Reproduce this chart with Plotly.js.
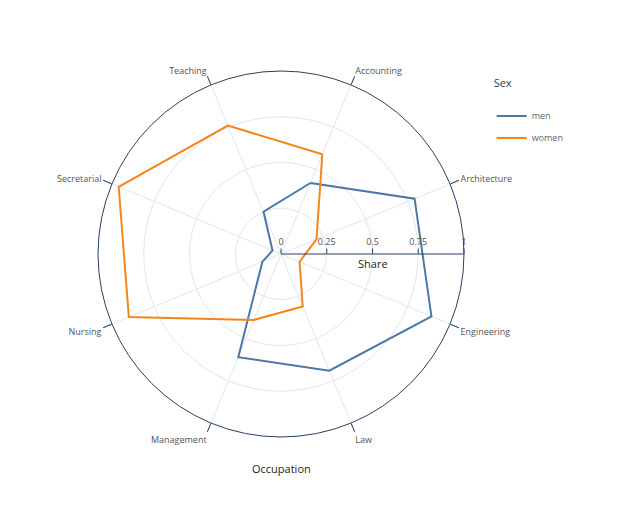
<!DOCTYPE html>
<html>
<head>
<meta charset="utf-8">
<script src="https://cdn.plot.ly/plotly-3.0.1.min.js"></script>
<style>html,body{margin:0;padding:0;background:#fff;}#chart{width:640px;height:507px;}</style>
</head>
<body>
<div id="chart"></div>
<script>
const occupations = ["Accounting","Architecture","Engineering","Law","Management","Nursing","Secretarial","Teaching"];
const menShare = [0.42, 0.79, 0.89, 0.69, 0.61, 0.11, 0.05, 0.25];
const womenShare = [0.59, 0.21, 0.11, 0.31, 0.39, 0.90, 0.96, 0.76];
const radialTicks = [0, 0.25, 0.5, 0.75, 1];
const radialTickText = ["0", "0.25", "0.5", "0.75", "1"];

function closeLoop(a){ return a.concat([a[0]]); }

const traces = [
  {type:"scatterpolar", mode:"lines", name:"men", legendgroup:"men", theta:closeLoop(occupations), r:closeLoop(menShare),
   line:{color:"#4C78A8", width:2}},
  {type:"scatterpolar", mode:"lines", name:"women", legendgroup:"women", theta:closeLoop(occupations), r:closeLoop(womenShare),
   line:{color:"#F58518", width:2}}
];

const layout = {
  width:640, height:507,
  margin:{l:40, r:118, t:71, b:70},
  paper_bgcolor:"#fff",
  font:{family:"Open Sans, sans-serif", color:"#2a3f5f", size:12},
  showlegend:true,
  legend:{title:{text:"Sex<br> ", font:{size:11, color:"#2a3f5f"}}, font:{size:9, color:"#666"},
          x:0.937, xanchor:"left", y:0.995, yanchor:"top",
          traceorder:"grouped", tracegroupgap:3, itemwidth:30},
  polar:{
    bgcolor:"#fff",
    angularaxis:{direction:"clockwise", rotation:67.5, categoryorder:"array", categoryarray:occupations,
      showline:true, linecolor:"#2a3f5f", linewidth:1, gridcolor:"#E1E6EE", ticks:"outside", ticklen:9,
      tickcolor:"#2a3f5f", tickfont:{size:9, color:"#555"}},
    radialaxis:{range:[0,1], tickvals:radialTicks, ticktext:radialTickText, angle:0, side:"counterclockwise", showline:true,
      linecolor:"#2a3f5f", linewidth:1, gridcolor:"#E1E6EE", ticks:"outside", ticklen:5, tickcolor:"#2a3f5f",
      tickfont:{size:9, color:"#555"}}
  },
  annotations:[
    {text:"Occupation", xref:"paper", yref:"paper", x:0.5, y:-0.085, xanchor:"center", yanchor:"middle",
     showarrow:false, font:{size:11, color:"#222"}},
    {text:"Share", xref:"paper", yref:"paper", x:0.691, y:0.473, xanchor:"center", yanchor:"middle",
     showarrow:false, font:{size:11, color:"#222"}}
  ]
};

Plotly.newPlot("chart", traces, layout, {displayModeBar:false});
</script>
</body>
</html>
